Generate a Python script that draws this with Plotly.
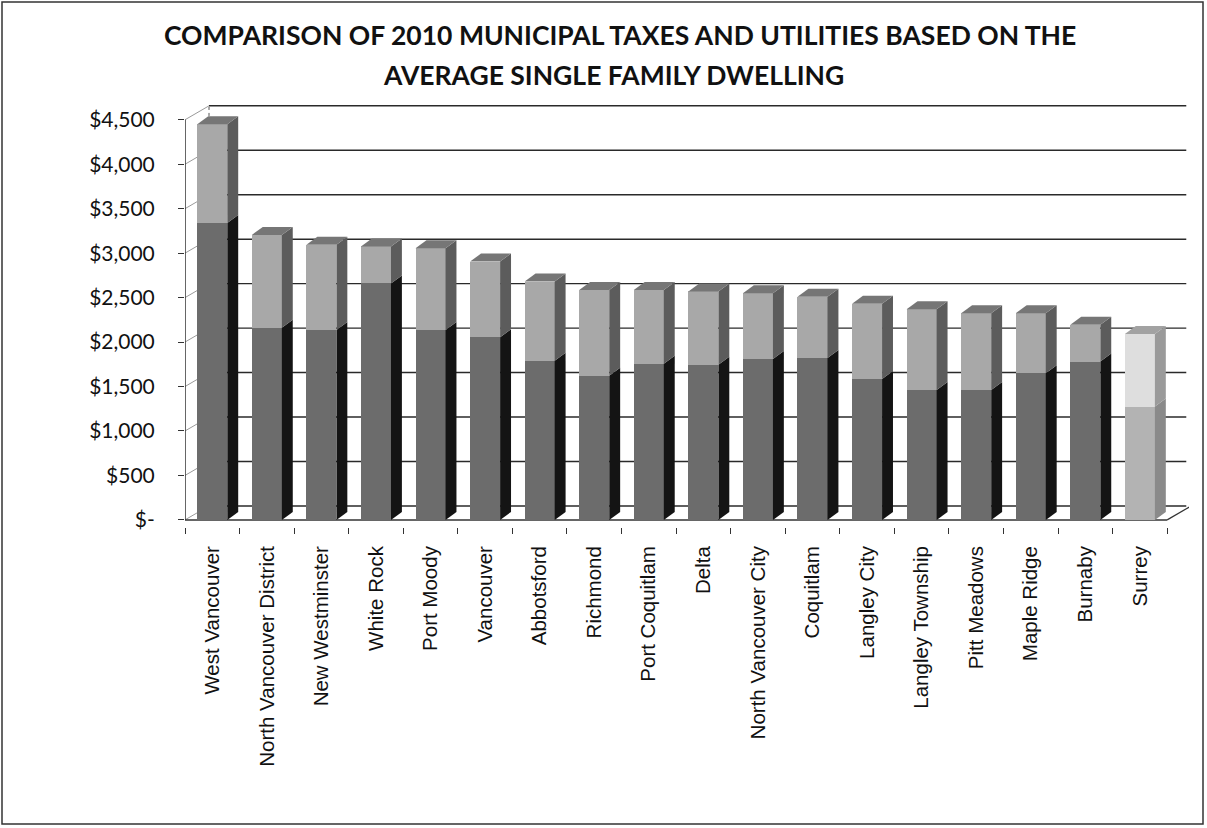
import plotly.graph_objects as go

# ---------------- data ----------------
categories = ["West Vancouver", "North Vancouver District", "New Westminster", "White Rock",
              "Port Moody", "Vancouver", "Abbotsford", "Richmond", "Port Coquitlam", "Delta",
              "North Vancouver City", "Coquitlam", "Langley City", "Langley Township",
              "Pitt Meadows", "Maple Ridge", "Burnaby", "Surrey"]
taxes = [3340, 2160, 2135, 2660, 2135, 2055, 1790, 1620, 1755, 1745, 1810, 1820,
         1585, 1460, 1460, 1650, 1780, 1275]
utilities = [1110, 1045, 960, 415, 920, 850, 890, 965, 830, 825, 740, 690,
             845, 910, 865, 675, 415, 815]
y_tick_vals = [0, 500, 1000, 1500, 2000, 2500, 3000, 3500, 4000, 4500]
y_tick_text = ["$-", "$500", "$1,000", "$1,500", "$2,000", "$2,500", "$3,000",
               "$3,500", "$4,000", "$4,500"]
title_lines = ["COMPARISON OF 2010 MUNICIPAL TAXES AND UTILITIES BASED ON THE",
               "AVERAGE SINGLE FAMILY DWELLING"]
highlight = "Surrey"

# ---------------- layout constants ----------------
W, H = 1207, 828
L, R, T, B = 185, 18, 102, 301
x_range = [-0.5, 17.9]
y_range = [-80, 4700]
bar_w = 0.55
depth_dx = 0.2
depth_dy = 90
wall_dx = 0.44
wall_dy = 157

pw = W - L - R
ph = H - T - B


def px_x(p):
    return (p - L) / pw


def px_y(p):
    return ((H - B) - p) / ph


n = len(categories)
idx = list(range(n))
totals = [t + u for t, u in zip(taxes, utilities)]

tax_cols, util_cols, tax_side, util_side, cap_cols = [], [], [], [], []
for c in categories:
    if c == highlight:
        tax_cols.append("#b3b3b3"); util_cols.append("#dedede")
        tax_side.append("#8a8a8a"); util_side.append("#9a9a9a"); cap_cols.append("#a2a2a2")
    else:
        tax_cols.append("#6c6c6c"); util_cols.append("#a8a8a8")
        tax_side.append("#141414"); util_side.append("#5c5c5c"); cap_cols.append("#767676")

fig = go.Figure()
fig.add_trace(go.Bar(x=idx, y=taxes, width=bar_w, name="Municipal Taxes",
                     marker=dict(color=tax_cols, line=dict(width=0)), hoverinfo="skip"))
fig.add_trace(go.Bar(x=idx, y=utilities, width=bar_w, name="Utilities",
                     marker=dict(color=util_cols, line=dict(width=0)), hoverinfo="skip"))

# 3D side faces and top caps, computed from the data
for i in idx:
    xl = i - bar_w / 2
    xr = i + bar_w / 2
    t = taxes[i]
    tot = totals[i]
    fig.add_trace(go.Scatter(
        x=[xr, xr + depth_dx, xr + depth_dx, xr, xr],
        y=[0, depth_dy, t + depth_dy, t, 0],
        fill="toself", fillcolor=tax_side[i], mode="lines", line=dict(width=0, color=tax_side[i]),
        showlegend=False, hoverinfo="skip"))
    fig.add_trace(go.Scatter(
        x=[xr, xr + depth_dx, xr + depth_dx, xr, xr],
        y=[t, t + depth_dy, tot + depth_dy, tot, t],
        fill="toself", fillcolor=util_side[i], mode="lines", line=dict(width=0, color=util_side[i]),
        showlegend=False, hoverinfo="skip"))
    fig.add_trace(go.Scatter(
        x=[xl, xl + depth_dx, xr + depth_dx, xr, xl],
        y=[tot, tot + depth_dy, tot + depth_dy, tot, tot],
        fill="toself", fillcolor=cap_cols[i], mode="lines", line=dict(width=0, color=cap_cols[i]),
        showlegend=False, hoverinfo="skip"))

shapes = []
back_x0 = x_range[0] + wall_dx
# back wall gridlines
for v in y_tick_vals:
    shapes.append(dict(type="line", xref="x", yref="y", layer="below",
                       x0=back_x0, x1=x_range[1] - 0.05, y0=v + wall_dy, y1=v + wall_dy,
                       line=dict(color="#2a2a2a", width=1.4)))
    # left wall diagonals
    shapes.append(dict(type="line", xref="x", yref="y", layer="below",
                       x0=x_range[0], x1=back_x0, y0=v, y1=v + wall_dy,
                       line=dict(color="#9a9a9a", width=1)))
# back-left vertical edge
shapes.append(dict(type="line", xref="x", yref="y", layer="below",
                   x0=back_x0, x1=back_x0, y0=wall_dy, y1=y_tick_vals[-1] + wall_dy,
                   line=dict(color="#555555", width=1, dash="dot")))
# floor front edge and right edge
shapes.append(dict(type="line", xref="x", yref="y", layer="below",
                   x0=x_range[0], x1=n - 0.5, y0=0, y1=0,
                   line=dict(color="#333333", width=1.5)))
shapes.append(dict(type="line", xref="x", yref="y", layer="below",
                   x0=n - 0.5, x1=n - 0.5 + wall_dx, y0=0, y1=wall_dy,
                   line=dict(color="#333333", width=1.2)))
# outer frame
shapes.append(dict(type="rect", xref="paper", yref="paper",
                   x0=px_x(2), x1=px_x(1203), y0=px_y(824), y1=px_y(2),
                   line=dict(color="#333333", width=1.5), fillcolor="rgba(0,0,0,0)"))

annotations = [
    dict(text="<b>%s</b>" % title_lines[0], xref="paper", yref="paper",
         x=px_x(620), y=px_y(35), showarrow=False, xanchor="center", yanchor="middle",
         font=dict(family="Lato", size=26.5, color="#111111")),
    dict(text="<b>%s</b>" % title_lines[1], xref="paper", yref="paper",
         x=px_x(613), y=px_y(75), showarrow=False, xanchor="center", yanchor="middle",
         font=dict(family="Lato", size=26.5, color="#111111")),
]

fig.update_layout(
    width=W, height=H,
    margin=dict(l=L, r=R, t=T, b=B, autoexpand=False),
    paper_bgcolor="white", plot_bgcolor="white",
    barmode="stack", showlegend=False,
    shapes=shapes, annotations=annotations,
    xaxis=dict(range=x_range, tickmode="array", tickvals=idx, ticktext=categories,
               tickangle=-90, ticks="", showgrid=False, zeroline=False, showline=False,
               ticklabelstandoff=14,
               tickfont=dict(family="Liberation Sans", size=20.5, color="#111111"),
               minor=dict(ticks="outside", ticklen=6, tickcolor="#333333",
                          tickmode="array", tickvals=[i - 0.5 for i in range(n + 1)])),
    yaxis=dict(range=y_range, tickmode="array", tickvals=y_tick_vals, ticktext=y_tick_text,
               ticks="outside", ticklen=6, tickcolor="#333333", showgrid=False,
               zeroline=False, showline=False, ticklabelstandoff=19,
               tickfont=dict(family="Lato", size=21, color="#111111")),
)
# front axis line
fig.add_shape(type="line", xref="x", yref="y", x0=x_range[0], x1=x_range[0],
              y0=0, y1=y_tick_vals[-1], line=dict(color="#333333", width=1.5))

fig.write_html("out.html", config={"displayModeBar": False},
               post_script="document.body.style.margin='0';document.body.style.overflow='hidden';")
